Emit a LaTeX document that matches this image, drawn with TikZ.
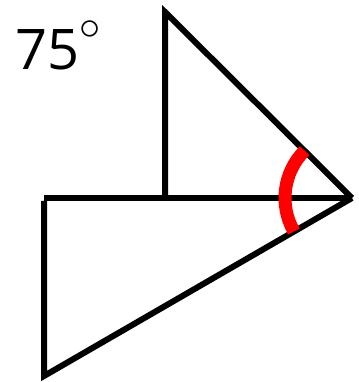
\documentclass[tikz,border=0pt]{standalone}
\usepackage{fontspec}
\setmainfont{Open Sans}
\usetikzlibrary{calc}

\begin{document}
\begin{tikzpicture}[x=1pt, y=1pt,
    edge/.style={draw=black, line width=6pt, line join=miter},
    anglemark/.style={draw=red, line width=13pt},
    anglelabel/.style={anchor=base west, inner sep=0pt, font=\fontsize{56}{60}\selectfont}]
    \useasboundingbox (0,0) rectangle (358,382);

    \coordinate (top) at (165,370);
    \coordinate (foot) at (165,184);
    \coordinate (tip) at (352,184);
    \coordinate (left) at (44,184);
    \coordinate (leftdown) at (44,181);
    \coordinate (bottom) at (44,6);

    % upper triangle
    \draw [edge] (foot) -- (top) -- (tip);
    % lower triangle
    \draw [edge] (left) -- (tip);
    \draw [edge] (leftdown) -- (bottom) -- (tip);

    % angle at the tip
    \draw [anglemark] ($(tip)+(135:67)$) arc (135:210:67);

    \node [anglelabel] (label) at (15,312) {75\raisebox{30pt}{\scalebox{1.7}{$\circ$}}};
\end{tikzpicture}
\end{document}
